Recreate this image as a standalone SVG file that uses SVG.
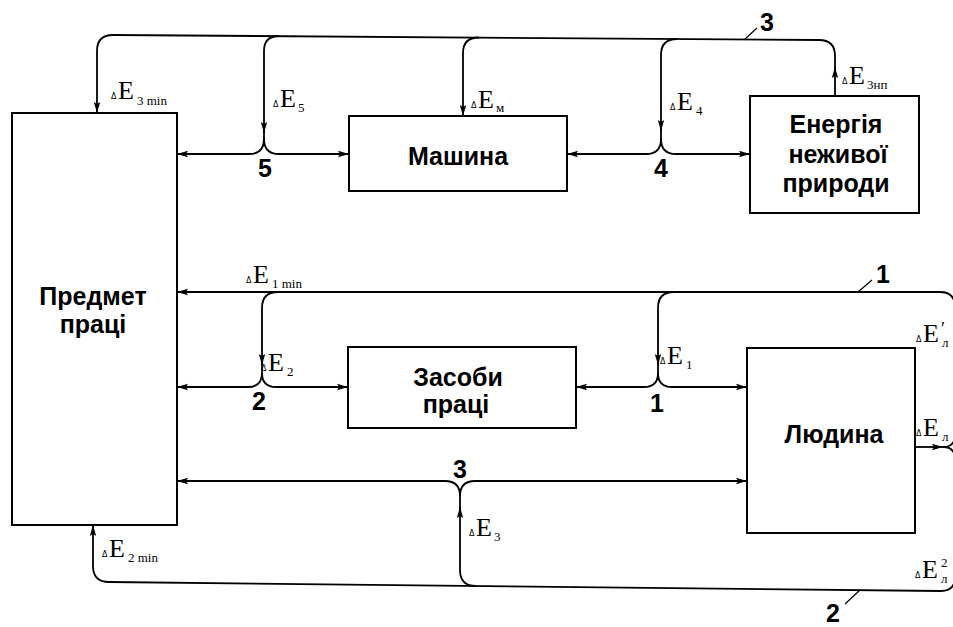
<svg xmlns="http://www.w3.org/2000/svg" width="953" height="627" viewBox="0 0 953 627">
<style>
.ln{fill:none;stroke:#000;stroke-width:1.8}
.box{fill:#fff;stroke:#000;stroke-width:2}
.bt{font-family:"Liberation Sans",Arial,sans-serif;font-weight:bold;font-size:25px;text-anchor:middle;fill:#000}
.num{font-family:"Liberation Sans",Arial,sans-serif;font-weight:bold;font-size:25px;text-anchor:middle;fill:#000}
.E{font-family:"Liberation Serif","Times New Roman",serif;font-size:26px;fill:#000}
.d{font-family:"DejaVu Sans",sans-serif;font-size:8px;fill:#000}
.s{font-family:"Liberation Serif","Times New Roman",serif;font-size:13px;fill:#000}
.p{font-family:"Liberation Serif","Times New Roman",serif;font-size:18px;fill:#000}
.ld{stroke:#000;stroke-width:1.2;fill:none}
</style>
<defs>
<marker id="a" markerWidth="12" markerHeight="8" refX="11" refY="4" orient="auto" markerUnits="userSpaceOnUse">
<path d="M0,0.8 L11,4 L0,7.2 L2,4 z" fill="#000"/>
</marker>
</defs>
<rect width="953" height="627" fill="#fff"/>

<g id="predmet">
<rect class="box" x="12" y="113" width="165" height="412"/>
<text class="bt" x="93" y="305">Предмет</text>
<text class="bt" x="93" y="333">праці</text>
</g>
<g id="mashyna">
<rect class="box" x="349" y="116" width="218" height="75"/>
<text class="bt" x="458" y="165">Машина</text>
</g>
<g id="energiya">
<rect class="box" x="750" y="96" width="169" height="117"/>
<text class="bt" x="836" y="133">Енергія</text>
<text class="bt" x="838" y="163">неживої</text>
<text class="bt" x="836" y="192">природи</text>
</g>
<g id="zasoby">
<rect class="box" x="348" y="347" width="228" height="81"/>
<text class="bt" x="458" y="386">Засоби</text>
<text class="bt" x="456" y="413">праці</text>
</g>
<g id="lyudyna">
<rect class="box" x="747" y="348" width="168" height="185"/>
<text class="bt" x="834" y="443">Людина</text>
</g>

<g id="connectors">
<!-- flow 3 (top) -->
<path class="ln" d="M835 96 L835 67" marker-end="url(#a)"/>
<path class="ln" d="M835 70 L835 56 Q835 40 819 40 L113 35 Q97 35 97 51 L97 113" marker-end="url(#a)"/>
<path class="ln" d="M279 36 Q264 36 264 51 L264 133" marker-end="url(#a)"/>
<path class="ln" d="M264 130 L264 139 Q264 154 249 154 L177 154" marker-end="url(#a)"/>
<path class="ln" d="M264 139 Q264 154 279 154 L349 154" marker-end="url(#a)"/>
<path class="ln" d="M479 37.5 Q463 37.5 463 53 L463 116" marker-end="url(#a)"/>
<path class="ln" d="M677 39 Q661 39 661 55 L661 131" marker-end="url(#a)"/>
<path class="ln" d="M661 128 L661 139 Q661 154 646 154 L567 154" marker-end="url(#a)"/>
<path class="ln" d="M661 139 Q661 154 676 154 L750 154" marker-end="url(#a)"/>
<!-- flow 1 -->
<path class="ln" d="M943 447 Q955 447 955 435 L955 307 Q955 292 940 292 L177 292" marker-end="url(#a)"/>
<path class="ln" d="M674 292 Q658 292 658 308 L658 365" marker-end="url(#a)"/>
<path class="ln" d="M658 362 L658 373 Q658 387 644 387 L576 387" marker-end="url(#a)"/>
<path class="ln" d="M658 373 Q658 387 672 387 L747 387" marker-end="url(#a)"/>
<path class="ln" d="M278 292 Q262 292 262 308 L262 365" marker-end="url(#a)"/>
<path class="ln" d="M262 362 L262 373 Q262 387 248 387 L177 387" marker-end="url(#a)"/>
<path class="ln" d="M262 373 Q262 387 276 387 L348 387" marker-end="url(#a)"/>
<!-- human output -->
<path class="ln" d="M915 447 L943 447" marker-end="url(#a)"/>
<!-- flow 2 (bottom) -->
<path class="ln" d="M943 447 Q955 447 955 459 L955 577 Q955 591 941 591 L109 582 Q93 582 93 566 L93 525" marker-end="url(#a)"/>
<path class="ln" d="M476 586 Q460 586 460 570 L460 507" marker-end="url(#a)"/>
<path class="ln" d="M460 510 L460 496 Q460 481 445 481 L177 481" marker-end="url(#a)"/>
<path class="ln" d="M460 496 Q460 481 475 481 L747 481" marker-end="url(#a)"/>
<!-- leaders -->
<path class="ld" d="M745 39 L757 28"/>
<path class="ld" d="M858 292 L872 280"/>
<path class="ld" d="M860 590 L845 604"/>
</g>

<g id="numbers">
<text class="num" x="767" y="31">3</text>
<text class="num" x="265" y="177">5</text>
<text class="num" x="661" y="177">4</text>
<text class="num" x="883" y="283">1</text>
<text class="num" x="259" y="410">2</text>
<text class="num" x="657" y="412">1</text>
<text class="num" x="460" y="478">3</text>
<text class="num" x="833" y="622">2</text>
</g>

<g id="labels">
<text class="d" x="111" y="99">Δ</text><text class="E" x="118" y="99">E</text><text class="s" x="137" y="105">3 min</text>
<text class="d" x="273" y="107">Δ</text><text class="E" x="280" y="107">E</text><text class="s" x="298" y="112">5</text>
<text class="d" x="471" y="108">Δ</text><text class="E" x="478" y="108">E</text><text class="s" x="496" y="112">м</text>
<text class="d" x="670" y="110">Δ</text><text class="E" x="677" y="110">E</text><text class="s" x="696" y="115">4</text>
<text class="d" x="842" y="84">Δ</text><text class="E" x="849" y="84">E</text><text class="s" x="867" y="89">3нп</text>
<text class="d" x="246" y="283">Δ</text><text class="E" x="253" y="283">E</text><text class="s" x="272" y="288">1 min</text>
<text class="d" x="261" y="371">Δ</text><text class="E" x="268" y="371">E</text><text class="s" x="287" y="376">2</text>
<text class="d" x="660" y="364">Δ</text><text class="E" x="667" y="364">E</text><text class="s" x="686" y="369">1</text>
<text class="d" x="916" y="342">Δ</text><text class="E" x="923" y="342">E</text><text class="p" x="941" y="335">′</text><text class="s" x="942" y="347">л</text>
<text class="d" x="916" y="436">Δ</text><text class="E" x="923" y="436">E</text><text class="s" x="942" y="441">л</text>
<text class="d" x="915" y="578">Δ</text><text class="E" x="922" y="578">E</text><text class="s" x="941" y="567">2</text><text class="s" x="941" y="583">л</text>
<text class="d" x="469" y="536">Δ</text><text class="E" x="476" y="536">E</text><text class="s" x="494" y="541">3</text>
<text class="d" x="102" y="557">Δ</text><text class="E" x="109" y="557">E</text><text class="s" x="128" y="562">2 min</text>
</g>
</svg>
